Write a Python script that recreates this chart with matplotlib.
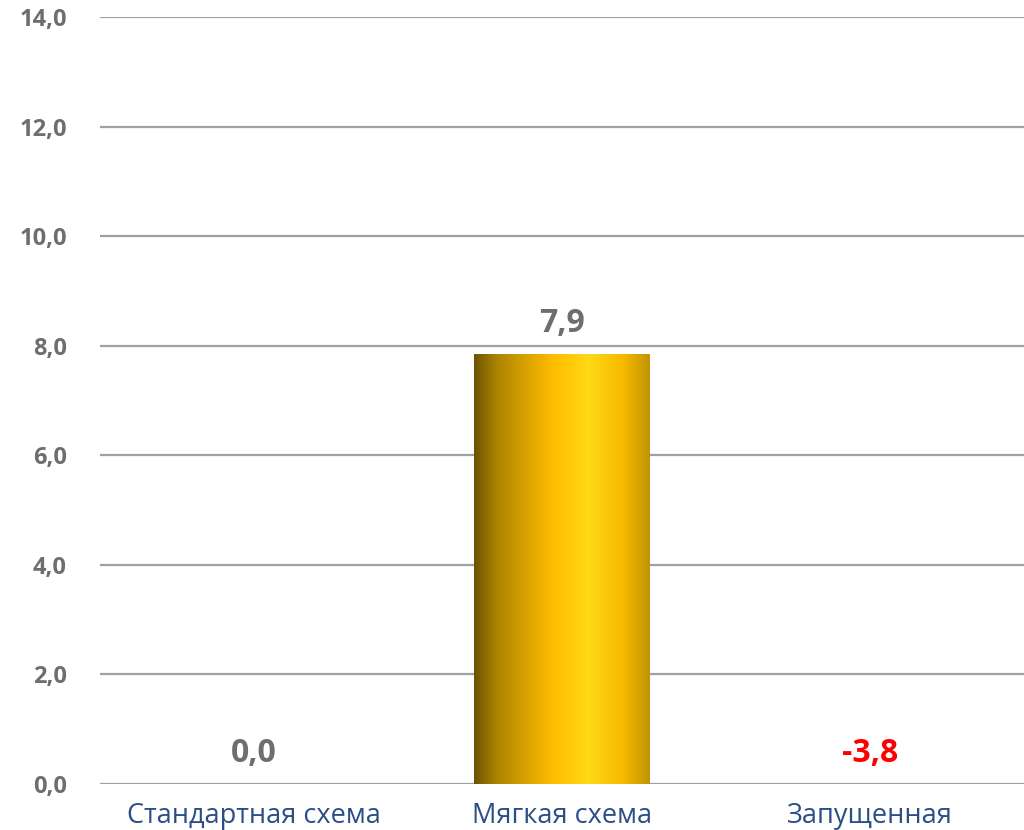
import numpy as np
import matplotlib
matplotlib.use('Agg')
import matplotlib.pyplot as plt
from matplotlib.colors import LinearSegmentedColormap

# данные
categories = ['Стандартная схема', 'Мягкая схема', 'Запущенная']
values = [0.0, 7.85, -3.8]
value_labels = ['0,0', '7,9', '-3,8']
label_colors = ['#6e6e6e', '#6e6e6e', '#ff0000']
y_ticks = [0, 2, 4, 6, 8, 10, 12, 14]

plt.rcParams['font.family'] = ['Open Sans', 'DejaVu Sans']

fig = plt.figure(figsize=(10.24, 8.3), dpi=100)
ax = fig.add_axes([100/1024, 46/830, 924/1024, 767/830])

x = np.arange(len(categories))
bars = ax.bar(x, values, width=0.57, color='none', edgecolor='none', zorder=3)

# золотой градиент по горизонтали
gold = LinearSegmentedColormap.from_list('gold', [
    (0.00, '#6b5300'), (0.12, '#a98100'), (0.30, '#d9a300'),
    (0.45, '#ffbc00'), (0.65, '#ffd916'), (0.85, '#f7b900'), (1.00, '#c29400')])
grad = np.linspace(0, 1, 256).reshape(1, -1)
for b in bars:
    h = b.get_height()
    if h <= 0:
        continue
    x0 = b.get_x()
    im = ax.imshow(grad, cmap=gold, aspect='auto', zorder=3,
                   extent=[x0, x0 + b.get_width(), 0, h])
    im.set_clip_path(b)

for i, v in enumerate(values):
    ax.annotate(value_labels[i], (x[i], max(v, 0)), xytext=(0, 10),
                textcoords='offset points', ha='center', va='bottom',
                fontsize=23, fontweight='bold', color=label_colors[i])

ax.set_xlim(-0.5, 2.5)
ax.set_ylim(0, 14)
ax.set_yticks(y_ticks)
ax.set_yticklabels([f'{t:.1f}'.replace('.', ',') for t in y_ticks],
                   fontsize=17, fontweight='bold', color='#6e6e6e')
ax.set_xticks(x)
ax.set_xticklabels(categories, fontsize=19.5, color='#2a4e85')
ax.tick_params(axis='y', length=0, pad=24)
ax.tick_params(axis='x', length=0, pad=13)
ax.grid(axis='y', color='#a0a0a0', linewidth=1.6, zorder=0)
ax.set_axisbelow(True)
for s in ax.spines.values():
    s.set_visible(False)

fig.savefig('out.png', dpi=100)
